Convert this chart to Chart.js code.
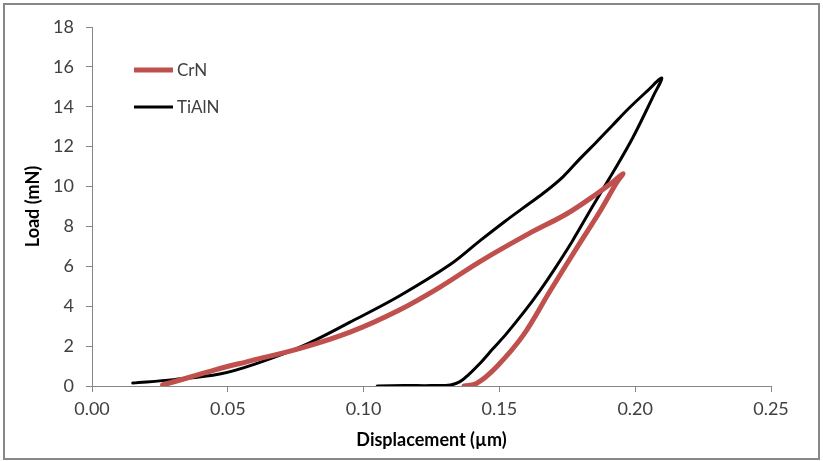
<!DOCTYPE html>
<html>
<head>
<meta charset="utf-8">
<script src="https://cdn.jsdelivr.net/npm/chart.js@4"></script>
<style>
  html, body { margin: 0; padding: 0; background: #fff; }
  #wrap { width: 823px; height: 461px; position: relative; }
</style>
</head>
<body>
<div id="wrap"><canvas id="loadChart" width="823" height="461"></canvas></div>
<script>
// ---------- Data ----------
const seriesNames = ["CrN", "TiAlN"];

// CrN: loading then unloading
const crnDisp = [0.026, 0.035, 0.045, 0.058, 0.077, 0.095, 0.113, 0.128, 0.143, 0.161, 0.175, 0.186, 0.192, 0.1955,
                 0.1932, 0.187, 0.180, 0.1686, 0.1588, 0.149, 0.1416, 0.137];
const crnLoad = [0.05, 0.40, 0.80, 1.25, 1.90, 2.70, 3.80, 4.95, 6.25, 7.65, 8.65, 9.65, 10.25, 10.65,
                 10.2, 8.75, 7.25, 4.75, 2.55, 0.97, 0.13, 0.0];

// TiAlN: loading then unloading
const tialnDisp = [0.015, 0.030, 0.047, 0.060, 0.077, 0.095, 0.113, 0.132, 0.143, 0.152, 0.161, 0.167, 0.1735, 0.1797,
                   0.1855, 0.1915, 0.1975, 0.2045, 0.2098,
                   0.2067, 0.1993, 0.192, 0.1845, 0.177, 0.170, 0.165, 0.159, 0.1527, 0.1475, 0.1429, 0.1385,
                   0.1355, 0.132, 0.125, 0.115, 0.105];
const tialnLoad = [0.15, 0.32, 0.60, 1.10, 1.97, 3.20, 4.50, 6.10, 7.30, 8.25, 9.15, 9.75, 10.5, 11.4,
                   12.2, 13.05, 13.9, 14.8, 15.45,
                   14.55, 12.5, 10.75, 9.05, 7.3, 5.8, 4.8, 3.7, 2.64, 1.85, 1.14, 0.55,
                   0.22, 0.05, 0.02, 0.02, 0.0];

const xTicks = [0, 0.05, 0.10, 0.15, 0.20, 0.25];
const yTicks = [0, 2, 4, 6, 8, 10, 12, 14, 16, 18];

// ---------- Helpers ----------
function toPoints(xs, ys) {
    return xs.map((x, i) => ({ x: x, y: ys[i] }));
}

const axisGrey = "#868686";
const labelGrey = "#404040";
const fontFamily = "Lato, 'Open Sans', sans-serif";

// Legend drawn inside the plot, like the Excel original
const insideLegend = {
    id: "insideLegend",
    afterDraw(chart) {
        const ctx = chart.ctx;
        const rows = [70, 107];
        ctx.save();
        chart.data.datasets.forEach((ds, i) => {
            ctx.strokeStyle = ds.borderColor;
            ctx.lineWidth = ds.borderWidth;
            ctx.beginPath();
            ctx.moveTo(134, rows[i]);
            ctx.lineTo(173, rows[i]);
            ctx.stroke();
            ctx.fillStyle = labelGrey;
            ctx.font = "17px " + fontFamily;
            ctx.textBaseline = "middle";
            ctx.fillText(ds.label, 177, rows[i] + 1);
        });
        ctx.restore();
    }
};

// Grey frame around the whole chart
const outerFrame = {
    id: "outerFrame",
    afterDraw(chart) {
        const ctx = chart.ctx;
        ctx.save();
        ctx.strokeStyle = "#888888";
        ctx.lineWidth = 2;
        ctx.strokeRect(4, 4, 815, 455);
        ctx.restore();
    }
};

// ---------- Chart ----------
const ctx = document.getElementById("loadChart").getContext("2d");

const loadChart = new Chart(ctx, {
    type: "scatter",
    data: {
        datasets: [{
            label: seriesNames[0],
            data: toPoints(crnDisp, crnLoad),
            borderColor: "#C0504D",
            borderWidth: 5,
            showLine: true,
            pointRadius: 0,
            tension: 0.35,
            borderCapStyle: "round",
            borderJoinStyle: "round"
        }, {
            label: seriesNames[1],
            data: toPoints(tialnDisp, tialnLoad),
            borderColor: "#000000",
            borderWidth: 3,
            showLine: true,
            pointRadius: 0,
            tension: 0.35,
            borderCapStyle: "round",
            borderJoinStyle: "round"
        }]
    },
    options: {
        responsive: false,
        animation: false,
        layout: { padding: { left: 0, right: 52, top: 27, bottom: 0 } },
        plugins: {
            legend: { display: false },
            tooltip: { enabled: false }
        },
        scales: {
            x: {
                type: "linear",
                min: 0,
                max: 0.25,
                afterBuildTicks: (scale) => { scale.ticks = xTicks.map(v => ({ value: v })); },
                afterFit: (scale) => { scale.height = 75; },
                ticks: {
                    color: labelGrey,
                    font: { family: fontFamily, size: 18 },
                    padding: 6,
                    maxRotation: 0,
                    callback: (v) => Number(v).toFixed(2)
                },
                grid: { drawOnChartArea: false, drawTicks: true, tickLength: 6, color: axisGrey },
                border: { color: axisGrey, width: 1 },
                title: {
                    display: true,
                    text: "Displacement (µm)",
                    color: "#000",
                    font: { family: fontFamily, size: 18, weight: "bold" },
                    padding: { top: 0, bottom: 10 }
                }
            },
            y: {
                min: 0,
                max: 18,
                afterBuildTicks: (scale) => { scale.ticks = yTicks.map(v => ({ value: v })); },
                afterFit: (scale) => { scale.width = 92; },
                ticks: {
                    color: labelGrey,
                    font: { family: fontFamily, size: 18 },
                    padding: 12
                },
                grid: { drawOnChartArea: false, drawTicks: true, tickLength: 6, color: axisGrey },
                border: { color: axisGrey, width: 1 },
                title: {
                    display: true,
                    text: "Load (mN)",
                    color: "#000",
                    font: { family: fontFamily, size: 18, weight: "bold" },
                    padding: { top: 22, bottom: 0 }
                }
            }
        }
    },
    plugins: [insideLegend, outerFrame]
});
</script>
</body>
</html>
